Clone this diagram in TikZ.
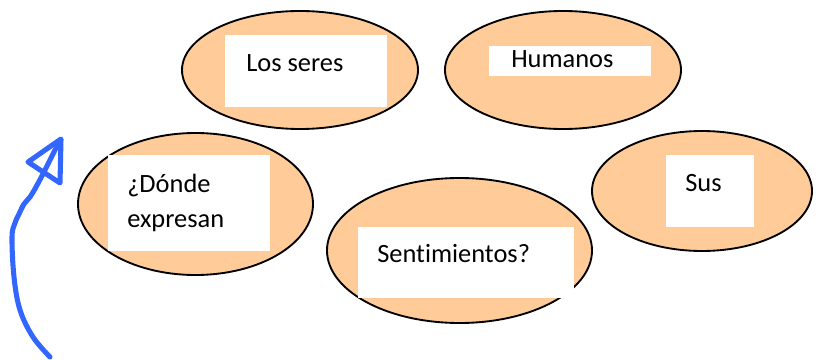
\documentclass[tikz,border=0pt]{standalone}
\usepackage{fontspec}
\setmainfont[Ligatures=NoCommon]{Carlito}
\usetikzlibrary{shapes.geometric}
\definecolor{peach}{HTML}{FFCC99}
\definecolor{penblue}{HTML}{3366FF}
\tikzset{
  bubble/.style={ellipse, draw=black, line width=1.4pt, fill=peach, inner sep=0pt},
  card/.style={rectangle, fill=white, draw=none, inner sep=0pt, anchor=north west},
  label/.style={inner sep=0pt, anchor=base west, font=\fontsize{19.8pt}{26.25pt}\selectfont, align=left},
  pen/.style={penblue, line width=3.8pt, line cap=round, line join=round}
}
\begin{document}
\begin{tikzpicture}[x=0.75pt, y=-0.75pt]
\useasboundingbox (0,0) rectangle (820,360);
% ellipses with white cards
\node[bubble, minimum width=177pt, minimum height=88.5pt] (e1) at (300,70) {};
\node[card, minimum width=121.5pt, minimum height=54pt] (r1) at (225,35) {};
\node[bubble, minimum width=177pt, minimum height=88.5pt] (e2) at (563,70) {};
\node[card, minimum width=121.5pt, minimum height=22.5pt] (r2) at (489,46) {};
\node[bubble, minimum width=176.25pt, minimum height=106.5pt] (e3) at (195.5,204) {};
\node[card, minimum width=121.5pt, minimum height=72pt] (r3) at (108,155) {};
\node[bubble, minimum width=198.75pt, minimum height=108.75pt] (e4) at (459.5,250.5) {};
\node[card, minimum width=162pt, minimum height=53.25pt] (r4) at (358,227) {};
\node[bubble, minimum width=165pt, minimum height=90pt] (e5) at (702,191) {};
\node[card, minimum width=66pt, minimum height=54pt] (r5) at (666,155) {};
% texts
\node[label] (t1) at (246,71) {Los seres};
\node[label] (t2) at (511,68) {Humanos};
\node[label] (t3) at (127,227) {¿Dónde\\expresan};
\node[label] (t4) at (377,262) {Sentimientos?};
\node[label] (t5) at (685,191) {Sus};
% hand-drawn blue arrow
\draw[pen] plot[smooth, tension=0.6] coordinates {(50,357) (33,337) (20,310) (14,277) (12,237) (15,223) (19,214) (24,204) (30,197) (36,187) (44,172) (52,156) (60,140)};
\draw[pen] (61,139) -- (28,162) -- (60,183) -- cycle;
\end{tikzpicture}
\end{document}
